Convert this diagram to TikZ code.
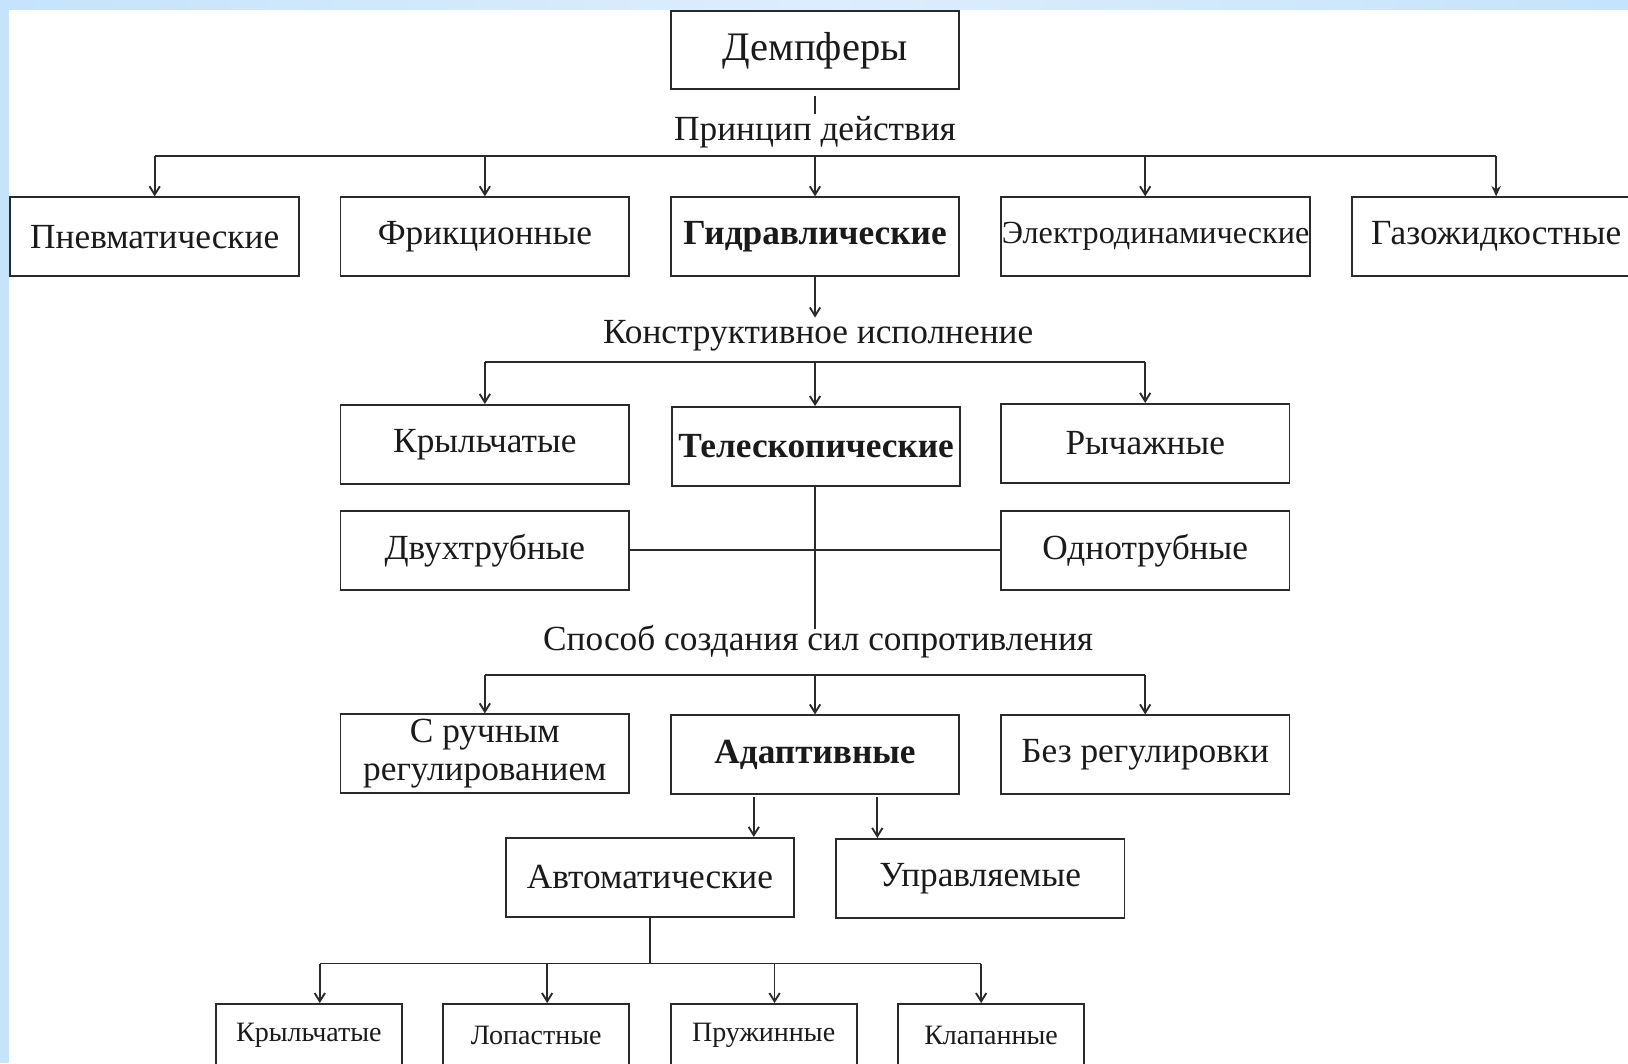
\documentclass[tikz,border=0pt]{standalone}
\usepackage{fontspec}
\setmainfont{Liberation Serif}
\usetikzlibrary{arrows.meta,calc}
\definecolor{linec}{HTML}{2A2A2A}
\definecolor{txtc}{HTML}{1A1A1A}
\definecolor{bluea}{HTML}{C5E3FB}
\definecolor{blueb}{HTML}{DCEEFD}
\begin{document}
\begin{tikzpicture}[x=0.5pt,y=-0.5pt,
  box/.style={draw=linec, line width=0.9pt, minimum width=139pt, minimum height=38pt,
    inner sep=0.5pt, text=txtc, font=\fontsize{17}{18.5}\selectfont},
  smallbox/.style={box, minimum width=89.5pt, minimum height=30pt,
    font=\fontsize{13.5}{15}\selectfont},
  lab/.style={inner sep=1pt, text=txtc, font=\fontsize{17}{18.5}\selectfont},
  ln/.style={draw=linec, line width=0.9pt},
  arr/.style={ln, -{Straight Barb[length=4pt,width=5pt]}},
  farr/.style={ln, -{Stealth[length=5pt,width=4.5pt]}}]
\useasboundingbox (0,0) rectangle (1568,1024);
\fill[white] (0,0) rectangle (1568,1024);
\shade[left color=bluea, right color=bluea, middle color=blueb] (0,0) rectangle (1568,9.6);
\fill[bluea] (0,0) rectangle (8.7,1024);

% level 0
\node[box, minimum height=37.5pt, font=\fontsize{19.5}{21}\selectfont] (top) at (785,48.5) {Демпферы};
\node[lab] (l1) at (785,127) {Принцип действия};

% level 1
\node[box] (p1) at (149,228) {Пневматические};
\node[box] (p2) at (467,228) {Фрикционные};
\node[box] (p3) at (785,228) {\textbf{Гидравлические}};
\node[box, minimum width=149pt, font=\fontsize{15.5}{17}\selectfont] (p4) at (1113,228) {Электродинамические};
\node[box] (p5) at (1441,228) {Газожидкостные};

\draw[ln] ([yshift=-3pt]top.south) -- (l1.north);
\coordinate (b1) at (785,150);
\coordinate (b1d) at (1103,150);
\draw[ln] (p1.north |- b1) -- (p5.north |- b1);
\draw[arr] (p1.north |- b1) -- (p1.north);
\draw[arr] (p2.north |- b1) -- (p2.north);
\draw[arr] (p3.north |- b1) -- (p3.north);
\draw[arr] (b1d) -- (b1d |- p4.north);
\draw[farr] (p5.north |- b1) -- (p5.north);

% level 2
\node[lab] (l2) at (788,323) {Конструктивное исполнение};
\draw[arr] (p3.south) -- (p3.south |- l2.north);
\node[box] (k1) at (467,428) {Крыльчатые};
\node[box] (k2) at (786,430) {\textbf{Телескопические}};
\node[box] (k3) at (1103,427) {Рычажные};
\coordinate (b2) at (785,349);
\draw[ln] (k1.north |- b2) -- (k3.north |- b2);
\draw[arr] (k1.north |- b2) -- (k1.north);
\draw[arr] (b2) -- (b2 |- k2.north);
\draw[arr] (k3.north |- b2) -- (k3.north);

% level 3
\node[box] (d1) at (467,530) {Двухтрубные};
\node[box] (d2) at (1103,530) {Однотрубные};
\node[lab] (l3) at (788,618) {Способ создания сил сопротивления};
\draw[ln] (d1.east) -- (d2.west);
\coordinate (v3) at (785,606);
\draw[ln] (k2.south -| v3) -- (v3);

% level 4
\node[box, align=center] (s1) at (467,726) {С ручным\\регулированием};
\node[box] (s2) at (785,727) {\textbf{Адаптивные}};
\node[box] (s3) at (1103,727) {Без регулировки};
\coordinate (b3) at (785,650);
\draw[ln] (s1.north |- b3) -- (s3.north |- b3);
\draw[arr] (s1.north |- b3) -- (s1.north);
\draw[arr] (b3) -- (s2.north);
\draw[arr] (s3.north |- b3) -- (s3.north);

% level 5
\node[box] (a1) at (626,845) {Автоматические};
\node[box] (a2) at (944,846) {Управляемые};
\coordinate (e1) at (726,768);
\coordinate (e2) at (845,768);
\draw[arr] (e1) -- (e1 |- a1.north);
\draw[arr] (e2) -- (e2 |- a2.north);

% level 6
\node[smallbox] (c1) at (297.5,997) {Крыльчатые};
\node[smallbox] (c2) at (516.5,997) {Лопастные};
\node[smallbox] (c3) at (735.5,997) {Пружинные};
\node[smallbox] (c4) at (954.5,997) {Клапанные};
\coordinate (b4) at (626,928);
\coordinate (t1) at (308,928);
\coordinate (t2) at (527,928);
\coordinate (t3) at (746,928);
\coordinate (t4) at (945,928);
\draw[ln] (a1.south) -- (b4);
\draw[ln] (t1) -- (t4);
\draw[arr] (t1) -- (t1 |- c1.north);
\draw[arr] (t2) -- (t2 |- c2.north);
\draw[arr] (t3) -- (t3 |- c3.north);
\draw[arr] (t4) -- (t4 |- c4.north);
\end{tikzpicture}
\end{document}
